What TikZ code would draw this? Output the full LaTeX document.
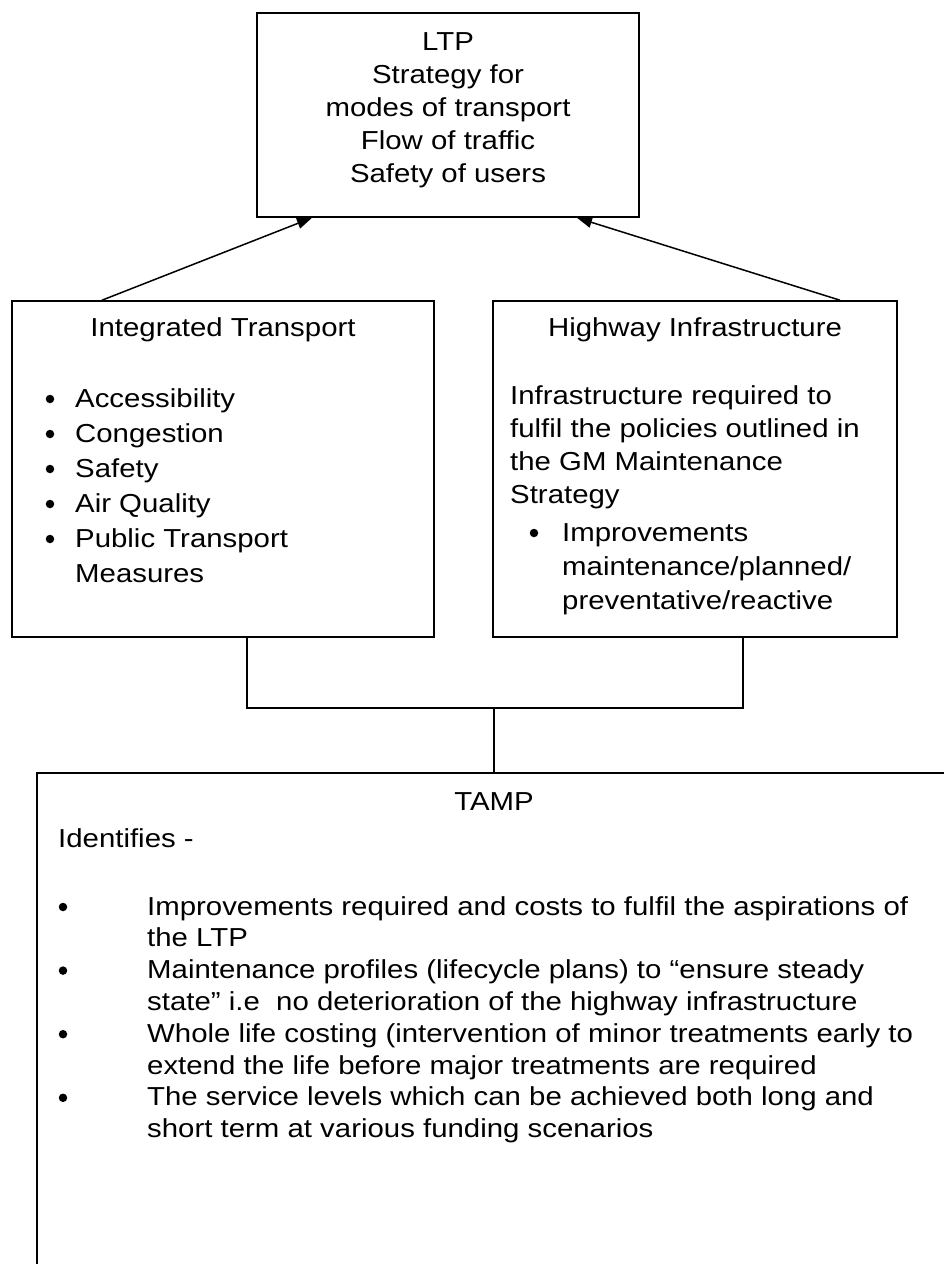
\documentclass[tikz,border=0pt]{standalone}
\usepackage{fontspec}
\setmainfont[FakeStretch=1.13]{Liberation Sans}
\usetikzlibrary{arrows.meta}
\begin{document}
\begin{tikzpicture}[x=1pt,y=-1pt,
  box/.style={draw, line width=1.6pt, inner sep=0pt},
  txt/.style={inner sep=0pt, anchor=base, font=\fontsize{26}{32}\selectfont},
  ltxt/.style={txt, anchor=base west},
  dot/.style={circle, fill, inner sep=0pt, minimum size=8.5pt},
  conn/.style={line width=1.6pt},
  arr/.style={line width=1.5pt, -{Triangle[length=15pt,width=11pt]}}]
\useasboundingbox (0,0) rectangle (944,1264);
\clip (0,0) rectangle (944,1264);

% boxes
\node[box, minimum width=382pt, minimum height=204pt] (ltp) at (448,115) {};
\node[box, minimum width=422pt, minimum height=336pt] (itb) at (223,469) {};
\node[box, minimum width=404pt, minimum height=336pt] (hwb) at (695,469) {};
\node[box, minimum width=963pt, minimum height=560pt] (tamp) at (518.5,1053) {};

% LTP text
\foreach \t [count=\i] in {LTP, Strategy for, modes of transport, Flow of traffic, Safety of users}
  \node[txt] (ltp-\i) at (448,{50+33*(\i-1)}) {\t};

% Integrated Transport
\node[txt] (itb-title) at (223,336) {Integrated Transport};
\foreach \t [count=\i] in {Accessibility, Congestion, Safety, Air Quality, Public Transport}{
  \node[dot] (itb-d\i) at (50,{407+35*(\i-1)-8}) {};
  \node[ltxt] (itb-t\i) at (75,{407+35*(\i-1)}) {\t};
}
\node[ltxt] (itb-t6) at (75,582) {Measures};

% Highway Infrastructure
\node[txt] (hwb-title) at (695,336) {Highway Infrastructure};
\foreach \t [count=\i] in {Infrastructure required to, fulfil the policies outlined in, the GM Maintenance, Strategy}
  \node[ltxt] (hwb-p\i) at (510,{404+33*(\i-1)}) {\t};
\node[dot] (hwb-d1) at (534,533) {};
\node[ltxt] (hwb-b1) at (562,541) {Improvements};
\node[ltxt] (hwb-b2) at (562,575) {maintenance/planned/};
\node[ltxt] (hwb-b3) at (562,609) {preventative/reactive};

% TAMP
\node[txt] (tamp-title) at (494,810) {TAMP};
\node[ltxt] (tamp-id) at (58,847) {Identifies -};
\foreach \t [count=\i] in {
  {Improvements required and costs to fulfil the aspirations of},
  {the LTP},
  {Maintenance profiles (lifecycle plans) to “ensure steady},
  {state” i.e\ \ no deterioration of the highway infrastructure},
  {Whole life costing (intervention of minor treatments early to},
  {extend the life before major treatments are required},
  {The service levels which can be achieved both long and},
  {short term at various funding scenarios}}
  \node[ltxt] (tamp-l\i) at (147,{915+31.8*(\i-1)}) {\t};
\foreach \i in {0,2,4,6}
  \node[dot] (tamp-d\i) at (63,{915+31.8*\i-8}) {};

% connectors
\coordinate (cl) at (247,708);
\coordinate (cr) at (743,708);
\coordinate (cm) at (494,708);
\draw[conn] (itb.south -| cl) -- (cl) -- (cr) -- (hwb.south -| cr);
\draw[conn] (cm) -- (tamp.north -| cm);

% arrows
\coordinate (a1) at (102,0);
\coordinate (a2) at (312,0);
\coordinate (b1) at (840,0);
\coordinate (b2) at (577,0);
\draw[arr] (itb.north -| a1) -- (ltp.south -| a2);
\draw[arr] (hwb.north -| b1) -- (ltp.south -| b2);
\end{tikzpicture}
\end{document}
